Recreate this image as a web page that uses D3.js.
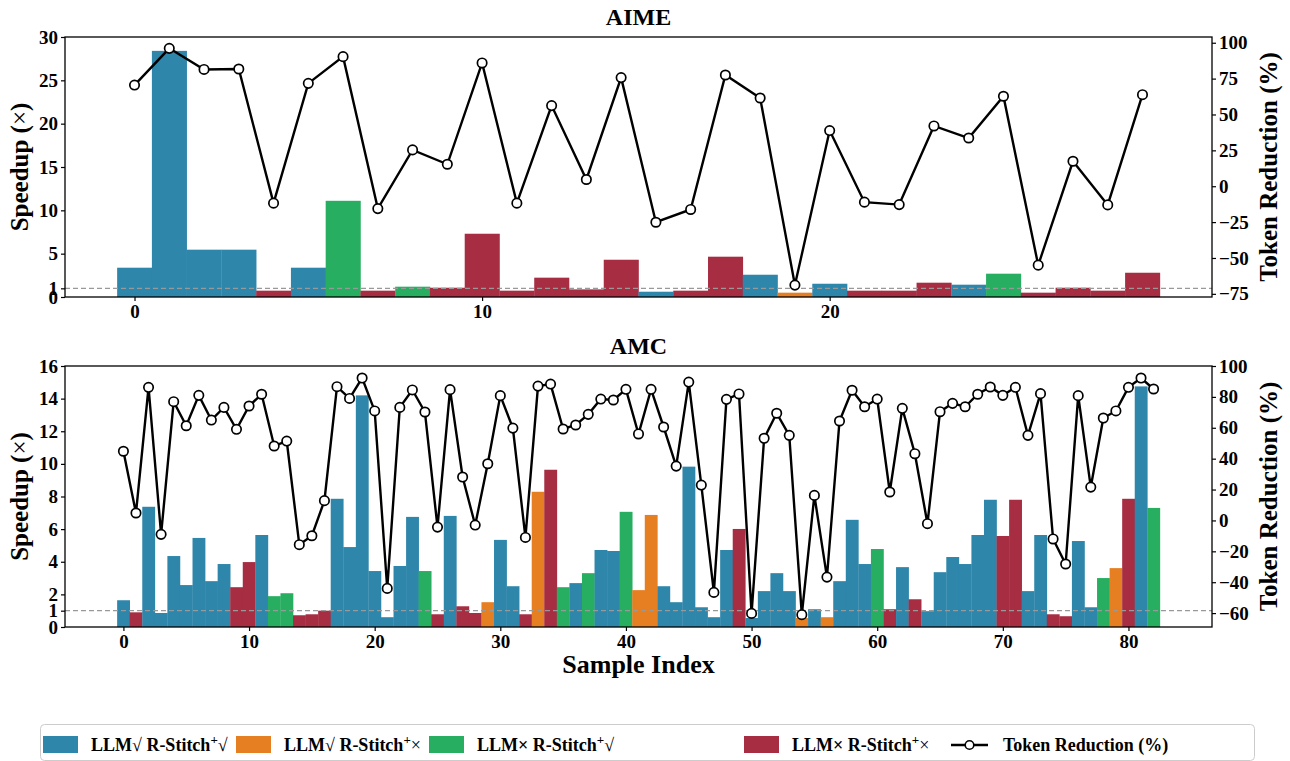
<!DOCTYPE html>
<html>
<head>
<meta charset="utf-8">
<script src="https://cdn.jsdelivr.net/npm/d3@7"></script>
<style>
  body { margin: 0; background: #fff; }
  text { font-family: "Liberation Serif", "DejaVu Serif", serif; font-weight: bold; }
</style>
</head>
<body>
<svg id="chart" width="1290" height="761"></svg>
<script>
// category of each sample: 0 = LLM√ R√, 1 = LLM√ R×, 2 = LLM× R√, 3 = LLM× R×
var catColors = ["#2E86AB", "#E67F22", "#27AE60", "#A72D43"];

var aimeCats = [0,0,0,0,3,0,2,3,2,3, 3,3,3,3,3,0,3,3,0,1, 0,3,3,3,0,2,3,3,3,3];
var aimeSpeedup = [3.38,28.4,5.46,5.46,0.73,3.38,11.1,0.73,1.19,1.07,
                   7.3,0.73,2.23,0.88,4.3,0.61,0.73,4.65,2.57,0.5,
                   1.53,0.73,0.73,1.65,1.42,2.69,0.5,1.07,0.73,2.8];
var aimeTokens = [70.5,96.1,81.4,81.7,-11.8,71.7,90.3,-15.6,25.3,15.3,
                  85.9,-11.8,56.2,4.7,75.7,-25.1,-16.2,77.5,61.5,-68.9,
                  38.8,-11.1,-12.8,42,33.6,62.7,-55,17.4,-13,63.8];

var amcCats = [0,3,0,0,0,0,0,0,0,3, 3,0,2,2,3,3,3,0,0,0,
               0,0,0,0,2,3,0,3,3,1, 0,0,3,1,3,2,0,2,0,0,
               2,1,1,0,0,0,0,0,0,3, 0,0,0,0,1,0,1,0,0,0,
               2,3,0,3,0,0,0,0,0,0, 3,3,0,0,3,3,0,0,2,1,
               3,0,2];
var amcSpeedup = [1.64,0.9,7.37,0.86,4.35,2.57,5.46,2.81,3.86,2.44,
                  3.98,5.64,1.89,2.07,0.72,0.78,1.0,7.86,4.9,14.2,
                  3.43,0.6,3.74,6.75,3.43,0.78,6.81,1.27,0.86,1.52,
                  5.34,2.5,0.78,8.29,9.64,2.44,2.69,3.3,4.72,4.66,
                  7.06,2.26,6.87,2.5,1.52,9.83,1.21,0.6,4.72,6.01,
                  0.55,2.2,3.3,2.2,0.55,1.09,0.6,2.81,6.57,3.86,
                  4.78,1.09,3.67,1.7,0.97,3.36,4.29,3.86,5.64,7.8,
                  5.58,7.8,2.2,5.64,0.78,0.66,5.27,1.21,3.0,3.61,
                  7.86,14.75,7.3];
var amcTokens = [44.8,4.8,86.2,-9,76.9,61.3,81,65,73.2,59,
                 74.1,81.7,48.2,51.4,-15.7,-9.9,12.8,86.6,79,92.2,
                 70.9,-44,73.2,84.5,70.2,-4.3,84.7,28.1,-3,36.7,
                 80.8,59.8,-11,87,88.3,59.2,61.8,68.7,78.6,78,
                 84.9,56,84.9,60.5,35.2,89.6,22.9,-46.6,78.4,81.9,
                 -60.2,53.2,69.4,55.1,-61,16.2,-36.7,64.4,84.3,73.6,
                 78.6,18.4,72.6,43.2,-2.1,70.4,75.8,73.6,81.7,86.4,
                 81,86.2,55.1,82.1,-12,-28.2,80.8,21.6,66.3,70.9,
                 86.2,92.2,85.1];

var aimeLeftTicks = [0,1,5,10,15,20,25,30];
var aimeRightTicks = [-75,-50,-25,0,25,50,75,100];
var amcLeftTicks = [0,1,2,4,6,8,10,12,14,16];
var amcRightTicks = [-60,-40,-20,0,20,40,60,80,100];
var xTicks = [0,10,20,30,40,50,60,70,80];

var legendLabels = [["LLM√ R-Stitch", "√"], ["LLM√ R-Stitch", "×"],
                    ["LLM× R-Stitch", "√"], ["LLM× R-Stitch", "×"]];

var svg = d3.select("#chart");
var left = 65, right = 1212;

var Panel = function (opt) {
  var n = opt.speed.length;
  var pad = n * 0.05;
  var x = d3.scaleLinear().domain([-0.5 - pad, n - 0.5 + pad]).range([left, right]);
  var y = d3.scaleLinear().domain(opt.yDom).range([opt.bottom, opt.top]);
  var y2 = d3.scaleLinear().domain(opt.y2Dom).range([opt.bottom, opt.top]);
  var g = svg.append("g");

  g.selectAll("rect.bar")
    .data(opt.speed)
  .enter().append("rect")
    .attr("class", "bar")
    .attr("x", function(d, i) { return x(i - 0.5); })
    .attr("width", function(d, i) { return x(i + 0.5) - x(i - 0.5) + 0.3; })
    .attr("y", function(d) { return y(d); })
    .attr("height", function(d) { return y(0) - y(d); })
    .attr("fill", function(d, i) { return catColors[opt.cats[i]]; });

  g.append("line")
    .attr("x1", left).attr("x2", right)
    .attr("y1", y(1)).attr("y2", y(1))
    .attr("stroke", "#999").attr("stroke-width", 1.3)
    .attr("stroke-dasharray", "5,3");

  var line = d3.line()
    .x(function(d, i) { return x(i); })
    .y(function(d) { return y2(d); });
  g.append("path")
    .datum(opt.tokens)
    .attr("d", line)
    .attr("fill", "none")
    .attr("stroke", "#000")
    .attr("stroke-width", 2.4);
  g.selectAll("circle")
    .data(opt.tokens)
  .enter().append("circle")
    .attr("cx", function(d, i) { return x(i); })
    .attr("cy", function(d) { return y2(d); })
    .attr("r", 4.7)
    .attr("fill", "#fff")
    .attr("stroke", "#000")
    .attr("stroke-width", 1.7);

  var minus = function(d) { return d < 0 ? "\u2212" + Math.abs(d) : "" + d; };
  var ax = g.append("g").attr("transform", "translate(0," + opt.bottom + ")")
    .call(d3.axisBottom(x).tickValues(opt.xTicks).tickSize(4).tickPadding(4).tickFormat(minus));
  var ay = g.append("g").attr("transform", "translate(" + left + ",0)")
    .call(d3.axisLeft(y).tickValues(opt.yTicks).tickSize(4).tickPadding(3).tickFormat(minus));
  var ay2 = g.append("g").attr("transform", "translate(" + right + ",0)")
    .call(d3.axisRight(y2).tickValues(opt.y2Ticks).tickSize(4).tickPadding(3).tickFormat(minus));
  [ax, ay, ay2].forEach(function(a) {
    a.select(".domain").remove();
    a.selectAll("text").style("font-size", "19px").attr("fill", "#000")
      .style("font-family", "'Liberation Serif', serif").style("font-weight", "bold");
    a.selectAll("line").attr("stroke", "#000").attr("stroke-width", 1.2);
  });

  g.append("rect")
    .attr("x", left).attr("y", opt.top)
    .attr("width", right - left).attr("height", opt.bottom - opt.top)
    .attr("fill", "none").attr("stroke", "#000").attr("stroke-width", 1.3);

  g.append("text")
    .attr("x", (left + right) / 2).attr("y", opt.top - 12)
    .attr("text-anchor", "middle").style("font-size", "24px")
    .text(opt.title);

  var mid = (opt.top + opt.bottom) / 2;
  var sl = g.append("text")
    .attr("transform", "translate(28," + mid + ") rotate(-90)")
    .attr("text-anchor", "middle").style("font-size", "25px");
  sl.append("tspan").text("Speedup (");
  sl.append("tspan").style("font-weight", "normal").text("×");
  sl.append("tspan").text(")");
  g.append("text")
    .attr("transform", "translate(1277," + mid + ") rotate(-90)")
    .attr("text-anchor", "middle").style("font-size", "25px")
    .text("Token Reduction (%)");
};

Panel({ title: "AIME", top: 37, bottom: 297, cats: aimeCats, speed: aimeSpeedup,
        tokens: aimeTokens, yDom: [0, 30], y2Dom: [-77.2, 104],
        yTicks: aimeLeftTicks, y2Ticks: aimeRightTicks, xTicks: [0, 10, 20] });
Panel({ title: "AMC", top: 366, bottom: 627, cats: amcCats, speed: amcSpeedup,
        tokens: amcTokens, yDom: [0, 16], y2Dom: [-69, 100],
        yTicks: amcLeftTicks, y2Ticks: amcRightTicks, xTicks: xTicks });

svg.append("text")
  .attr("x", (left + right) / 2).attr("y", 673)
  .attr("text-anchor", "middle").style("font-size", "26px")
  .text("Sample Index");

// legend
var lg = svg.append("g");
lg.append("rect")
  .attr("x", 40.5).attr("y", 724.5).attr("width", 1214).attr("height", 36)
  .attr("rx", 4).attr("fill", "#fff").attr("stroke", "#ccc").attr("stroke-width", 1);
var swatchX = [43, 236, 429, 744];
legendLabels.forEach(function(l, i) {
  lg.append("rect")
    .attr("x", swatchX[i]).attr("y", 736).attr("width", 35).attr("height", 17)
    .attr("fill", catColors[i]);
  var t = lg.append("text")
    .attr("x", swatchX[i] + 48).attr("y", 751)
    .style("font-size", "18px");
  t.append("tspan").text(l[0]);
  t.append("tspan").attr("dy", -7).style("font-size", "13px").text("+");
  t.append("tspan").attr("dy", 7).style("font-weight", "normal").text(l[1]);
});
lg.append("line")
  .attr("x1", 951).attr("x2", 988).attr("y1", 745).attr("y2", 745)
  .attr("stroke", "#000").attr("stroke-width", 2.4);
lg.append("circle")
  .attr("cx", 969.5).attr("cy", 745).attr("r", 4.3)
  .attr("fill", "#fff").attr("stroke", "#000").attr("stroke-width", 1.6);
lg.append("text")
  .attr("x", 1003).attr("y", 751).style("font-size", "18px")
  .text("Token Reduction (%)");
</script>
</body>
</html>
